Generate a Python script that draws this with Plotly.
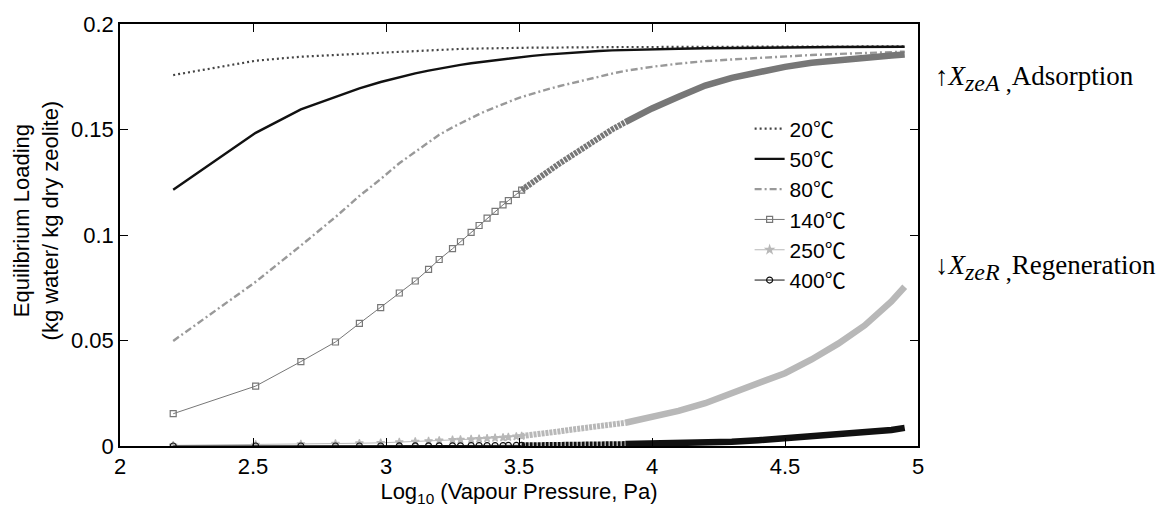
import plotly.graph_objects as go

# log10 of vapour pressure (Pa) at the sample points
log_p = [2.20, 2.51, 2.68, 2.81, 2.90, 2.98, 3.05, 3.11, 3.16, 3.20,
         3.25, 3.28, 3.32, 3.35, 3.38, 3.41, 3.44, 3.46, 3.49, 3.51,
         3.55, 3.60, 3.65, 3.70, 3.75, 3.80, 3.85, 3.90, 4.00, 4.10,
         4.20, 4.30, 4.40, 4.50, 4.60, 4.70, 4.80, 4.90, 4.95]

# equilibrium loading (kg water / kg dry zeolite) per temperature
load_20 = [0.1758, 0.1826, 0.1845, 0.1853, 0.1860, 0.1866, 0.1871, 0.1874, 0.1877, 0.1879,
           0.1881, 0.1882, 0.1883, 0.1884, 0.1885, 0.1885, 0.1886, 0.1886, 0.1887, 0.1887,
           0.1888, 0.1888, 0.1889, 0.1889, 0.1890, 0.1890, 0.1890, 0.1891, 0.1891, 0.1892,
           0.1892, 0.1892, 0.1893, 0.1893, 0.1893, 0.1893, 0.1894, 0.1894, 0.1894]
load_50 = [0.1215, 0.1484, 0.1595, 0.1655, 0.1695, 0.1725, 0.1748, 0.1766, 0.1779, 0.1789,
           0.1800, 0.1806, 0.1814, 0.1819, 0.1824, 0.1829, 0.1834, 0.1837, 0.1841, 0.1844,
           0.1849, 0.1855, 0.1860, 0.1865, 0.1869, 0.1872, 0.1875, 0.1877, 0.1880, 0.1883,
           0.1885, 0.1887, 0.1888, 0.1889, 0.1890, 0.1891, 0.1891, 0.1892, 0.1892]
load_80 = [0.0498, 0.0778, 0.0950, 0.1085, 0.1185, 0.1265, 0.1340, 0.1395, 0.1440, 0.1475,
           0.1510, 0.1530, 0.1555, 0.1573, 0.1590, 0.1606, 0.1621, 0.1631, 0.1645, 0.1654,
           0.1670, 0.1688, 0.1705, 0.1720, 0.1737, 0.1752, 0.1765, 0.1778, 0.1797, 0.1812,
           0.1824, 0.1832, 0.1840, 0.1847, 0.1853, 0.1858, 0.1863, 0.1867, 0.1869]
load_140 = [0.0153, 0.0284, 0.0400, 0.0493, 0.0581, 0.0656, 0.0725, 0.0782, 0.0837, 0.0884,
            0.0935, 0.0968, 0.1012, 0.1045, 0.1080, 0.1112, 0.1143, 0.1163, 0.1193, 0.1213,
            0.1250, 0.1293, 0.1337, 0.1378, 0.1420, 0.1460, 0.1500, 0.1535, 0.1600, 0.1655,
            0.1708, 0.1745, 0.1773, 0.1797, 0.1816, 0.1830, 0.1841, 0.1851, 0.1855]
load_250 = [0.0003, 0.0006, 0.0009, 0.0011, 0.0013, 0.0015, 0.0018, 0.0021, 0.0023, 0.0026,
            0.0029, 0.0030, 0.0032, 0.0034, 0.0036, 0.0038, 0.0040, 0.0042, 0.0045, 0.0047,
            0.0052, 0.0060, 0.0069, 0.0078, 0.0087, 0.0095, 0.0103, 0.0110, 0.0137, 0.0166,
            0.0203, 0.0248, 0.0295, 0.0345, 0.0410, 0.0485, 0.0572, 0.0685, 0.0755]
load_400 = [0.0000, 0.0000, 0.0000, 0.0000, 0.0000, 0.0000, 0.0001, 0.0001, 0.0001, 0.0001,
            0.0001, 0.0001, 0.0002, 0.0002, 0.0002, 0.0002, 0.0002, 0.0003, 0.0003, 0.0003,
            0.0003, 0.0004, 0.0004, 0.0005, 0.0006, 0.0007, 0.0008, 0.0009, 0.0011, 0.0013,
            0.0016, 0.0020, 0.0027, 0.0037, 0.0044, 0.0053, 0.0063, 0.0076, 0.0086]

temps = ["20", "50", "80", "140", "250", "400"]
unit = "℃"

x_ticks = [2, 2.5, 3, 3.5, 4, 4.5, 5]
y_ticks = [0, 0.05, 0.1, 0.15, 0.2]

# where the sample markers start to overlap (chain) and where they fuse (solid)
CHAIN = 19
SOLID = 27

FONT = "Arial, Liberation Sans, Noto Sans CJK SC, sans-serif"
SIZE = 22


def legend_name(t):
    # the degree-Celsius sign is set in a CJK face, as a full-width glyph
    return f"{t}<span style='font-family:Noto Sans CJK SC'>{unit}</span>"


fig = go.Figure()

fig.add_trace(go.Scatter(x=log_p, y=load_20, name=legend_name(temps[0]), mode="lines",
                         line=dict(color="#444444", width=2.2, dash="2px,3px")))
fig.add_trace(go.Scatter(x=log_p, y=load_50, name=legend_name(temps[1]), mode="lines",
                         line=dict(color="#111111", width=2.4)))
fig.add_trace(go.Scatter(x=log_p, y=load_80, name=legend_name(temps[2]), mode="lines",
                         line=dict(color="#999999", width=2.4, dash="7px,3px,2px,3px")))

# marker curves: open markers where sparse, a chain where they overlap,
# and a solid band where they fuse together
marker_curves = [
    (load_140, temps[3], "#777777", "square-open"),
    (load_250, temps[4], "#b8b8b8", "star"),
    (load_400, temps[5], "#111111", "circle-open"),
]
for ys, t, col, sym in marker_curves:
    fig.add_trace(go.Scatter(x=log_p[CHAIN:SOLID + 1], y=ys[CHAIN:SOLID + 1], mode="lines",
                             showlegend=False, hoverinfo="skip",
                             line=dict(color=col, width=6, dash="3px,1px")))
    fig.add_trace(go.Scatter(x=log_p[SOLID:], y=ys[SOLID:], mode="lines",
                             showlegend=False, hoverinfo="skip",
                             line=dict(color=col, width=6.5)))
    fig.add_trace(go.Scatter(x=log_p[:CHAIN + 1], y=ys[:CHAIN + 1], name=legend_name(t),
                             mode="lines+markers",
                             line=dict(color=col, width=1),
                             marker=dict(symbol=sym, size=6, color=col,
                                         line=dict(color=col, width=1.2))))

axis_common = dict(showline=True, linecolor="black", linewidth=1.5, mirror="ticks",
                   ticks="inside", ticklen=8, tickcolor="black", tickwidth=1,
                   showgrid=False, zeroline=False,
                   tickfont=dict(family=FONT, size=SIZE, color="black"))

fig.update_xaxes(range=[2, 5], tickvals=x_ticks, **axis_common,
                 title=dict(text="Log<sub>10</sub> (Vapour Pressure, Pa)",
                            font=dict(family=FONT, size=SIZE, color="black"),
                            standoff=0))
fig.update_yaxes(range=[0, 0.2], tickvals=y_ticks, **axis_common)

fig.add_annotation(text="Equilibrium Loading<br>(kg water/ kg dry zeolite)",
                   xref="paper", yref="paper", x=-0.105, y=0.535, textangle=-90,
                   showarrow=False, xanchor="center", yanchor="middle",
                   font=dict(family=FONT, size=SIZE, color="black"))

SERIF = "Times New Roman, Liberation Serif, serif"
fig.add_annotation(text="↑<i>X</i><sub><span style='font-size:24px'><i>zeA</i> ,</span></sub>Adsorption",
                   xref="paper", yref="paper", x=1.019, y=0.872,
                   xanchor="left", yanchor="middle", showarrow=False,
                   font=dict(family=SERIF, size=27, color="black"))
fig.add_annotation(text="↓<i>X</i><sub><span style='font-size:24px'><i>zeR</i> ,</span></sub>Regeneration",
                   xref="paper", yref="paper", x=1.019, y=0.424,
                   xanchor="left", yanchor="middle", showarrow=False,
                   font=dict(family=SERIF, size=27, color="black"))

fig.update_layout(
    width=1161, height=512,
    margin=dict(l=120, r=243, t=16, b=66),
    paper_bgcolor="white", plot_bgcolor="white",
    showlegend=True,
    legend=dict(x=0.789, y=0.80, xanchor="left", yanchor="top",
                bgcolor="rgba(0,0,0,0)", borderwidth=0, itemwidth=30,
                font=dict(family=FONT, size=21, color="black"),
                tracegroupgap=0),
)

fig.write_html("out.html")
